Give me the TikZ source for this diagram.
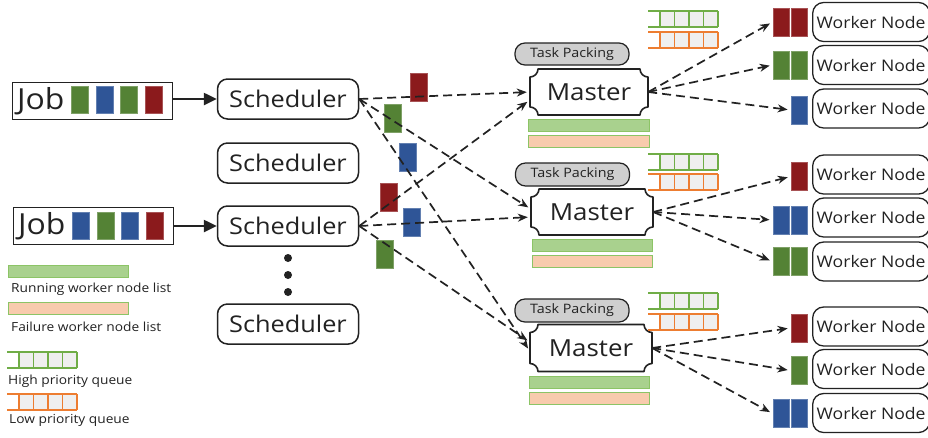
\documentclass[tikz,border=0pt]{standalone}
\usepackage{fontspec}
\setmainfont[FakeStretch=1.1]{Open Sans}
\usetikzlibrary{arrows.meta,calc}
\definecolor{jred}{HTML}{8B1A1C}
\definecolor{jblue}{HTML}{2F5597}
\definecolor{jgreen}{HTML}{548235}
\definecolor{barg}{HTML}{A9D18E}
\definecolor{baro}{HTML}{F8CBAD}
\definecolor{barline}{HTML}{8CC466}
\definecolor{qg}{HTML}{70AD47}
\definecolor{qo}{HTML}{ED7D31}
\definecolor{qfill}{HTML}{EFEFEF}
\definecolor{ink}{HTML}{222222}
\definecolor{tpgray}{HTML}{CFCFCF}
\newcommand\myqueue[3]{%
  \fill[qfill] (#1+12,#2) rectangle (#1+70,#2+16);
  \draw[#3, line width=1.6pt] (#1,#2) -- (#1+70,#2) (#1,#2+16) -- (#1+70,#2+16);
  \foreach \k in {0,...,4} \draw[#3, line width=1.6pt] (#1+12+14.5*\k,#2) -- ++(0,16);
}
\newcommand\mybars[3]{% x1, x2, top y
  \draw[barline, fill=barg, line width=0.9pt] (#1,#3) rectangle (#2,#3+12);
  \draw[barline, fill=baro, line width=0.9pt] (#1,#3+16) rectangle (#2,#3+28);
}
\newcommand\plaque[6]{% name, cx, cy, hw, hh, r
  \node[mastertext, minimum width=2*#4, minimum height=2*#5] (#1) at (#2,#3) {Master};
  \draw[masterline] (#2-#4+#6,#3-#5) -- (#2+#4-#6,#3-#5)
    .. controls +(0,0.55*#6) and +(-0.55*#6,0) .. (#2+#4,#3-#5+#6)
    -- (#2+#4,#3+#5-#6)
    .. controls +(-0.55*#6,0) and +(0,-0.55*#6) .. (#2+#4-#6,#3+#5)
    -- (#2-#4+#6,#3+#5)
    .. controls +(0,-0.55*#6) and +(0.55*#6,0) .. (#2-#4,#3+#5-#6)
    -- (#2-#4,#3-#5+#6)
    .. controls +(0.55*#6,0) and +(0,0.55*#6) .. cycle;
}
\tikzset{
  schedbox/.style={draw=ink, line width=1.5pt, rounded corners=10pt, minimum width=141, minimum height=40, inner sep=0pt, text=ink, font=\fontsize{23}{23}\selectfont},
  mastertext/.style={inner sep=0pt, text=ink, font=\fontsize{23.5}{23.5}\selectfont},
  masterline/.style={draw=ink, line width=1.6pt, line join=round},
  tpbox/.style={draw=ink, fill=tpgray, line width=1.2pt, rounded corners=10pt, minimum width=114, minimum height=22, inner sep=0pt, text=ink, font=\fontsize{13}{13}\selectfont},
  workerbox/.style={draw=ink, line width=1.3pt, rounded corners=11pt, anchor=west, minimum width=117, minimum height=39, inner sep=0pt, text=ink, font=\fontsize{16}{16}\selectfont},
  blk/.style={minimum width=16, minimum height=28, inner sep=0pt, line width=0.8pt},
  rblk/.style={blk, fill=jred, draw=jred!75!white},
  gblk/.style={blk, fill=jgreen, draw=jgreen!75!white},
  bblk/.style={blk, fill=jblue, draw=jblue!75!white},
  jobbox/.style={draw=ink, line width=1.4pt, minimum width=160, minimum height=37, inner sep=0pt, anchor=north west},
  jobtext/.style={inner sep=0pt, anchor=west, text=ink, font=\fontsize{29}{29}\selectfont},
  legtext/.style={inner sep=0pt, anchor=west, text=ink, font=\fontsize{12.5}{12.5}\selectfont},
  jobarrow/.style={draw=ink, line width=2.5pt, -{Triangle[length=13pt,width=12pt]}},
  dasharrow/.style={draw=ink, line width=1.7pt, dash pattern=on 9pt off 5pt, -{Stealth[length=10pt,width=8pt]}, shorten >=3pt},
  dot/.style={circle, fill=ink, inner sep=0pt, minimum size=8}
}
\begin{document}
\begin{tikzpicture}[x=1pt,y=-1pt]
\useasboundingbox (0,0) rectangle (928,437);
\fill[white] (0,0) rectangle (928,437);

% Jobs
\node[jobbox] (j1) at (12,82) {};
\node[jobtext] (j1t) at (17,101) {Job};
\node[gblk, minimum width=17, minimum height=27] (j1a) at (79.5,100) {};
\node[bblk, minimum width=17, minimum height=27] (j1b) at (104.5,100) {};
\node[gblk, minimum width=17, minimum height=27] (j1c) at (128.5,100) {};
\node[rblk, minimum width=17, minimum height=27] (j1d) at (153.5,100) {};

\node[jobbox] (j2) at (13,207) {};
\node[jobtext] (j2t) at (18,226) {Job};
\node[bblk, minimum width=17, minimum height=27] (j2a) at (81,225.5) {};
\node[gblk, minimum width=17, minimum height=27] (j2b) at (105.5,225.5) {};
\node[bblk, minimum width=17, minimum height=27] (j2c) at (130,225.5) {};
\node[rblk, minimum width=17, minimum height=27] (j2d) at (155,225.5) {};

% Schedulers
\node[schedbox] (s1) at (288,99) {Scheduler};
\node[schedbox] (s2) at (288,163) {Scheduler};
\node[schedbox] (s3) at (288,226) {Scheduler};
\node[schedbox] (s4) at (288,324) {Scheduler};
\node[dot] (d1) at (288,258) {};
\node[dot] (d2) at (288,275) {};
\node[dot] (d3) at (288,292) {};

\draw[jobarrow] (j1.east |- s1) -- (s1.west);
\draw[jobarrow] (j2.east |- s3) -- (s3.west);

% Masters
\plaque{m1}{589}{92}{59}{23}{8}
\plaque{m2}{592}{212}{61}{23}{8}
\plaque{m3}{591}{348}{61}{23.5}{8}
\node[tpbox] (tp1) at (572,54) {Task Packing};
\node[tpbox, minimum height=23] (tp2) at (572.5,174.5) {Task Packing};
\node[tpbox, minimum height=23] (tp3) at (572,310.5) {Task Packing};
\mybars{528}{649}{119}
\mybars{532}{652}{239}
\mybars{529}{649}{376}

% Queues
\myqueue{648}{11}{qg}
\myqueue{648}{32}{qo}
\myqueue{648}{154}{qg}
\myqueue{648}{174}{qo}
\myqueue{648}{293}{qg}
\myqueue{648}{314}{qo}

% Blocks along scheduler paths
\node[rblk, minimum width=17] (pr1) at (418.5,87) {};
\node[gblk, minimum width=17] (pg1) at (392.5,118.5) {};
\node[bblk, minimum width=17] (pb1) at (407.5,157.5) {};
\node[rblk, minimum width=17] (pr2) at (388.5,197.5) {};
\node[bblk, minimum width=17] (pb2) at (411.5,222) {};
\node[gblk, minimum width=17] (pg2) at (385,254) {};

% Scheduler -> Master
\draw[dasharrow] (s1.east) -- (m1.west);
\draw[dasharrow] (s1.east) -- ($(m2.west)+(0,-3)$);
\draw[dasharrow] (s1.east) -- ($(m3.west)+(0,3)$);
\draw[dasharrow] (s3.east) -- ($(m1.west)+(0,8)$);
\draw[dasharrow] (s3.east) -- ($(m2.west)+(0,5)$);
\draw[dasharrow] (s3.east) -- ($(m3.west)+(0,-6)$);

% Workers
\node[workerbox] (w1) at (812,22) {Worker Node};
\node[workerbox] (w2) at (812,65) {Worker Node};
\node[workerbox] (w3) at (812,108.5) {Worker Node};
\node[workerbox] (w4) at (812,174.5) {Worker Node};
\node[workerbox] (w5) at (812,217.5) {Worker Node};
\node[workerbox] (w6) at (812,261.5) {Worker Node};
\node[workerbox] (w7) at (812,326.5) {Worker Node};
\node[workerbox] (w8) at (812,369) {Worker Node};
\node[workerbox] (w9) at (812,413) {Worker Node};

\node[rblk] (b1a) at (781,22) {};
\node[rblk] (b1b) at (799,22) {};
\node[gblk] (b2a) at (781,65) {};
\node[gblk] (b2b) at (799,65) {};
\node[bblk] (b3) at (799,110) {};
\node[rblk] (b4) at (799,176.5) {};
\node[bblk] (b5a) at (781,220) {};
\node[bblk] (b5b) at (799,220) {};
\node[gblk] (b6a) at (781,261.5) {};
\node[gblk] (b6b) at (799,261.5) {};
\node[rblk] (b7) at (799,328) {};
\node[gblk] (b8) at (799,370.5) {};
\node[bblk] (b9a) at (781,413.5) {};
\node[bblk] (b9b) at (799,413.5) {};

% Master -> Workers
\draw[dasharrow] (m1.east) -- (b1a.west);
\draw[dasharrow] (m1.east) -- (b2a.west);
\draw[dasharrow] (m1.east) -- (b3.west);
\draw[dasharrow] (m2.east) -- (b4.west);
\draw[dasharrow] (m2.east) -- (b5a.west);
\draw[dasharrow] (m2.east) -- (b6a.west);
\draw[dasharrow] (m3.east) -- (b7.west);
\draw[dasharrow] (m3.east) -- (b8.west);
\draw[dasharrow] (m3.east) -- (b9a.west);

% Legend
\draw[barline, fill=barg, line width=0.9pt] (8,265) rectangle (128,277);
\node[legtext] (l1) at (11,289) {Running worker node list};
\draw[barline, fill=baro, line width=0.9pt] (8,302) rectangle (128,314);
\node[legtext] (l2) at (11,327) {Failure worker node list};
\myqueue{7}{352}{qg}
\node[legtext] (l3) at (8,381) {High priority queue};
\myqueue{7}{394}{qo}
\node[legtext] (l4) at (9,420) {Low priority queue};
\end{tikzpicture}
\end{document}
